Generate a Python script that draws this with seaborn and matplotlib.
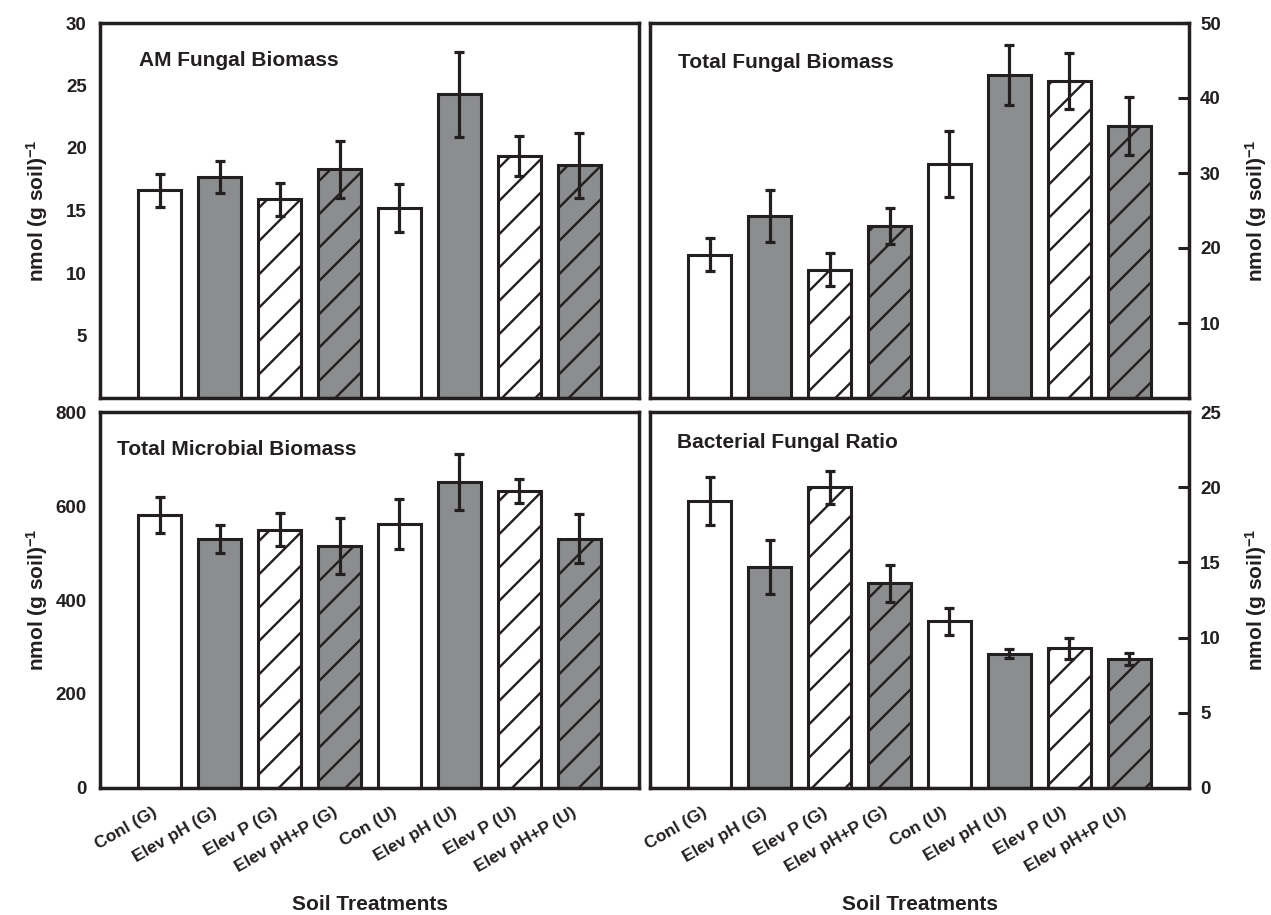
import numpy as np
import pandas as pd
import matplotlib
matplotlib.use("Agg")
import matplotlib.pyplot as plt
import seaborn as sns

# Treatments and measured means with standard errors
treatments = ["Conl (G)", "Elev pH (G)", "Elev P (G)", "Elev pH+P (G)",
              "Con (U)", "Elev pH (U)", "Elev P (U)", "Elev pH+P (U)"]

am_fungal = [16.6, 17.7, 15.9, 18.3, 15.2, 24.3, 19.4, 18.6]
am_fungal_se = [1.3, 1.3, 1.3, 2.3, 1.9, 3.4, 1.6, 2.6]

total_fungal = [19.1, 24.3, 17.1, 23.0, 31.2, 43.1, 42.3, 36.3]
total_fungal_se = [2.2, 3.5, 2.2, 2.4, 4.4, 4.0, 3.7, 3.9]

total_microbial = [581, 530, 550, 515, 561, 651, 632, 530]
total_microbial_se = [38, 29, 36, 59, 53, 59, 26, 52]

bf_ratio = [19.1, 14.7, 20.0, 13.6, 11.1, 8.93, 9.3, 8.55]
bf_ratio_se = [1.6, 1.8, 1.1, 1.2, 0.9, 0.3, 0.7, 0.4]

# Bar styling per treatment
INK = "#231f20"
GREY = "#8c8d8f"
fills = ["white", GREY, "white", GREY, "white", GREY, "white", GREY]
hatches = ["", "", "/", "/", "", "", "/", "/"]

sns.set_style("white")
plt.rcParams["font.family"] = ["Liberation Sans", "DejaVu Sans"]
plt.rcParams["font.weight"] = "bold"
plt.rcParams["mathtext.fontset"] = "custom"
plt.rcParams["mathtext.rm"] = "Liberation Sans:bold"
plt.rcParams["mathtext.bf"] = "Liberation Sans:bold"
plt.rcParams["mathtext.default"] = "bf"
plt.rcParams["hatch.linewidth"] = 1.7
plt.rcParams["hatch.color"] = INK
plt.rcParams["text.color"] = INK
plt.rcParams["axes.edgecolor"] = INK
plt.rcParams["xtick.color"] = INK
plt.rcParams["ytick.color"] = INK

W, H = 1271, 915
fig = plt.figure(figsize=(W / 100, H / 100), dpi=100)


def px_axes(left, top, right, bottom):
    return fig.add_axes([left / W, 1 - bottom / H, (right - left) / W, (bottom - top) / H])


def draw_panel(ax, values, errors, ylim, yticks, title, title_xy,
               right=False, show_labels=False):
    df = pd.DataFrame({"treatment": treatments, "value": values})
    sns.barplot(data=df, x="treatment", y="value", hue="treatment",
                palette=fills, legend=False, width=0.72, saturation=1,
                edgecolor=INK, linewidth=2.2, errorbar=None, ax=ax)
    for patch, h in zip(ax.patches, hatches):
        patch.set_hatch(h)
    ax.errorbar(np.arange(len(values)), values, yerr=errors, fmt="none",
                ecolor=INK, elinewidth=2.3, capsize=3.8, capthick=2.3, zorder=5)

    ax.set_xlim(-1, 8)
    ax.set_ylim(*ylim)
    ax.set_yticks(yticks)
    ax.set_yticklabels([str(t) for t in yticks], fontsize=13.5, fontweight="bold")
    ax.set_xlabel("")
    ax.set_ylabel("")
    for s in ax.spines.values():
        s.set_visible(True)
        s.set_linewidth(2.5)
        s.set_color(INK)

    if right:
        ax.yaxis.tick_right()
        ax.tick_params(axis="y", direction="in", length=8, width=2.2, pad=8)
    else:
        ax.tick_params(axis="y", direction="out", length=6.5, width=2.2, pad=3)

    ax.set_xticks(range(len(treatments)))
    if show_labels:
        ax.set_xticklabels(treatments, rotation=30, ha="right",
                           fontsize=12.5, fontweight="bold")
        ax.tick_params(axis="x", length=0, pad=12)
    else:
        ax.set_xticklabels([])
        ax.tick_params(axis="x", length=0)

    ax.text(title_xy[0], title_xy[1], title, transform=ax.transAxes,
            fontsize=15, fontweight="bold", ha="left", va="center")


ax_tl = px_axes(100, 23, 639, 398)
ax_tr = px_axes(650, 23, 1189, 398)
ax_bl = px_axes(100, 412, 639, 788)
ax_br = px_axes(650, 412, 1189, 788)

draw_panel(ax_tl, am_fungal, am_fungal_se, (0, 30), [5, 10, 15, 20, 25, 30],
           "AM Fungal Biomass", (0.072, 0.90))
draw_panel(ax_tr, total_fungal, total_fungal_se, (0, 50), [10, 20, 30, 40, 50],
           "Total Fungal Biomass", (0.052, 0.896), right=True)
draw_panel(ax_bl, total_microbial, total_microbial_se, (0, 800),
           [0, 200, 400, 600, 800], "Total Microbial Biomass", (0.031, 0.90),
           show_labels=True)
draw_panel(ax_br, bf_ratio, bf_ratio_se, (0, 25), [0, 5, 10, 15, 20, 25],
           "Bacterial Fungal Ratio", (0.05, 0.92), right=True, show_labels=True)

ylab = r"nmol (g soil)$^{-1}$"
for x, y in [(37, 211), (37, 600), (1256, 211), (1256, 600)]:
    fig.text(x / W, 1 - y / H, ylab, rotation=90, ha="center", va="center",
             fontsize=15, fontweight="bold")

for x in (370, 920):
    fig.text(x / W, 1 - 905 / H, "Soil Treatments", ha="center", va="center",
             fontsize=15, fontweight="bold")

fig.savefig("out.png", dpi=100)
